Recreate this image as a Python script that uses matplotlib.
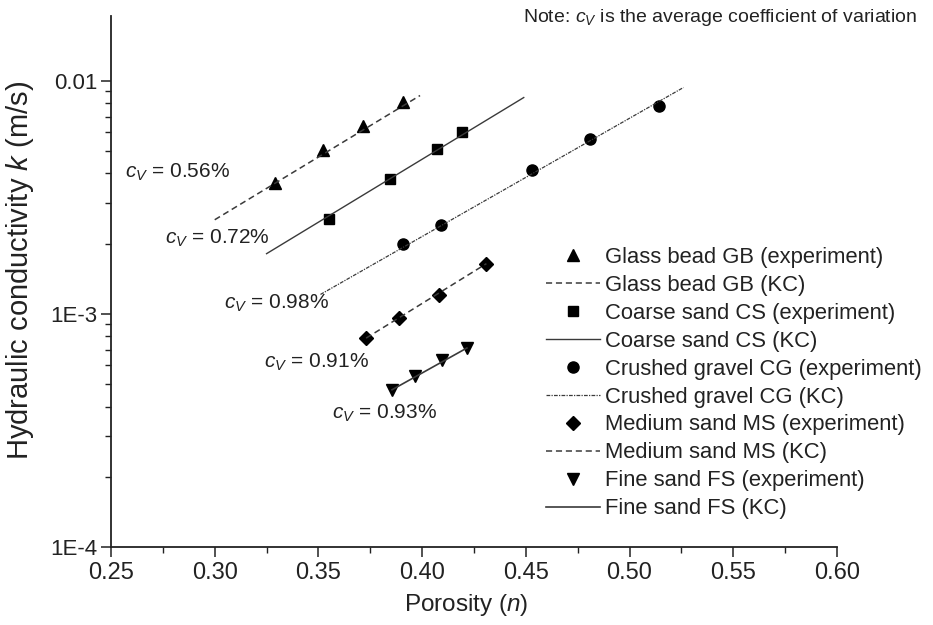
import matplotlib.pyplot as plt
import numpy as np
from matplotlib.ticker import FixedLocator, FuncFormatter, LogLocator, NullFormatter, MultipleLocator

plt.rcParams['font.family'] = ['Liberation Sans', 'DejaVu Sans']
plt.rcParams['mathtext.fontset'] = 'custom'
plt.rcParams['mathtext.rm'] = 'Liberation Sans'
plt.rcParams['mathtext.it'] = 'Liberation Sans:italic'

# experiment points (porosity n, hydraulic conductivity k in m/s)
gb_n = [0.329, 0.352, 0.3715, 0.391]
gb_k = [0.00364, 0.00503, 0.00637, 0.00806]
cs_n = [0.355, 0.3845, 0.407, 0.419]
cs_k = [0.00255, 0.00378, 0.00508, 0.0060]
cg_n = [0.391, 0.409, 0.453, 0.481, 0.514]
cg_k = [0.0020, 0.00241, 0.00413, 0.0056, 0.00775]
ms_n = [0.373, 0.389, 0.408, 0.431]
ms_k = [0.000786, 0.000957, 0.0012, 0.00164]
fs_n = [0.3855, 0.3966, 0.4096, 0.4216]
fs_k = [0.000472, 0.000541, 0.000633, 0.000713]

# KC prediction lines (end points)
gb_kc_n = [0.300, 0.399]
gb_kc_k = [0.00253, 0.00863]
cs_kc_n = [0.325, 0.449]
cs_kc_k = [0.00181, 0.00846]
cg_kc_n = [0.351, 0.526]
cg_kc_k = [0.00121, 0.00934]
ms_kc_n = [0.373, 0.431]
ms_kc_k = [0.000786, 0.00164]
fs_kc_n = [0.3855, 0.4216]
fs_kc_k = [0.000472, 0.000713]

cv_labels = ['0.56%', '0.72%', '0.98%', '0.91%', '0.93%']
cv_n = [0.2567, 0.276, 0.3045, 0.324, 0.3566]
cv_k = [0.00405, 0.0021, 0.00111, 0.00062, 0.000373]

fig = plt.figure(figsize=(9.33, 6.25), dpi=100)
ax = fig.add_axes([0.119, 0.125, 0.778, 0.85])

lc = '#3a3a3a'
ax.plot(gb_n, gb_k, '^', color='black', ms=9, ls='none', label='Glass bead GB (experiment)')
ax.plot(gb_kc_n, gb_kc_k, color=lc, lw=1.1, dashes=(4, 2.5), label='Glass bead GB (KC)')
ax.plot(cs_n, cs_k, 's', color='black', ms=7.5, ls='none', label='Coarse sand CS (experiment)')
ax.plot(cs_kc_n, cs_kc_k, color=lc, lw=1.0, ls='-', label='Coarse sand CS (KC)')
ax.plot(cg_n, cg_k, 'o', color='black', ms=8, ls='none', label='Crushed gravel CG (experiment)')
ax.plot(cg_kc_n, cg_kc_k, color=lc, lw=0.9, dashes=(3, 1, 1, 1), label='Crushed gravel CG (KC)')
ax.plot(ms_n, ms_k, 'D', color='black', ms=7, ls='none', label='Medium sand MS (experiment)')
ax.plot(ms_kc_n, ms_kc_k, color=lc, lw=1.1, dashes=(4, 2.5), label='Medium sand MS (KC)')
ax.plot(fs_n, fs_k, 'v', color='black', ms=9, ls='none', label='Fine sand FS (experiment)')
ax.plot(fs_kc_n, fs_kc_k, color=lc, lw=1.2, ls='-', label='Fine sand FS (KC)')

for lab, x, y in zip(cv_labels, cv_n, cv_k):
    ax.text(x, y, r'$c_V$ = ' + lab, fontsize=15, color='#222222', ha='left', va='center')

ax.set_yscale('log')
ax.set_xlim(0.25, 0.60)
ax.set_ylim(1e-4, 0.019)

ax.xaxis.set_major_locator(MultipleLocator(0.05))
ax.xaxis.set_minor_locator(MultipleLocator(0.025))
ax.xaxis.set_major_formatter(FuncFormatter(lambda v, p: f'{v:.2f}'))
ax.yaxis.set_major_locator(FixedLocator([1e-4, 1e-3, 1e-2]))
ax.yaxis.set_major_formatter(FuncFormatter(lambda v, p: {1e-4: '1E-4', 1e-3: '1E-3', 1e-2: '0.01'}.get(v, '')))
ax.yaxis.set_minor_locator(LogLocator(base=10, subs=np.arange(2, 10)))
ax.yaxis.set_minor_formatter(NullFormatter())

for s in ['top', 'right']:
    ax.spines[s].set_visible(False)
for s in ['left', 'bottom']:
    ax.spines[s].set_linewidth(1.3)
    ax.spines[s].set_color('#222222')

ax.tick_params(which='major', direction='out', length=7, width=1.1, colors='#222222')
ax.tick_params(which='minor', direction='out', length=4, width=1.0, colors='#222222')
ax.tick_params(axis='x', which='major', labelsize=17, pad=4)
ax.tick_params(axis='y', which='major', labelsize=16, pad=3)

ax.set_xlabel('Porosity ($n$)', fontsize=17.5, color='#222222')
ax.set_ylabel('Hydraulic conductivity $k$ (m/s)', fontsize=21, color='#222222')
ax.xaxis.set_label_coords(0.489, -0.085)
ax.yaxis.set_label_coords(-0.104, 0.52)

ax.legend(loc='upper left', bbox_to_anchor=(546 / 933, 1 - 247 / 625), bbox_transform=fig.transFigure,
          frameon=False, fontsize=15.8, handlelength=2.45, handletextpad=0.23, labelspacing=0.315,
          borderpad=0, borderaxespad=0, labelcolor='#222222')

fig.text(917 / 933, 1 - 18 / 625, r'Note: $c_V$ is the average coefficient of variation',
         fontsize=14, color='#222222', ha='right', va='center')

fig.savefig('out.png', dpi=100)
